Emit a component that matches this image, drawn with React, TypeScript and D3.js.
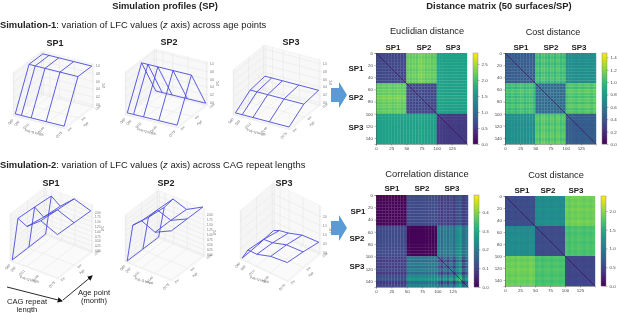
import React from 'react'
import * as d3 from 'd3'

// surface axes
const cagLengths = [80, 92, 111, 140, 175]
const cagLabels = ['Q80', 'Q92', 'Q111', 'Q140', 'Q175']
const ages = [2, 6, 10]
const ageLabels = ['2m', '6m', '10m']

// LFC per age (rows) and CAG length (columns)
const sim1Sp1 = [[0, 0, 0, 0, 0], [1, 1, 1, 1, 1], [1, 1, 1, 1, 1]]
const sim1Sp2 = [[0, 0, 0, 0, 0], [1, 1, 1, 1, 1], [0, 0, 0, 0, 0]]
const sim1Sp3 = [[0, 0, 0, 0, 0], [0.28, 0.28, 0.28, 0.28, 0.28], [0.33, 0.33, 0.33, 0.33, 0.33]]
const sim2Sp1 = [[0, 2.28, 2.03, 2.6, 2.2], [0, 2.2, 1.85, 2.5, 2.15], [0, 2.1, 1.75, 2.4, 2.1]]
const sim2Sp2 = [[0, 1.9, 2.3, 2.0, 2.4], [0, 1.7, 2.25, 2.0, 2.4], [0, 1.6, 2.2, 1.95, 2.4]]
const sim2Sp3 = [[0, 0.6, 0.6, 0.85, 0.95], [0, 0.45, 0.5, 0.75, 0.8], [0.05, 0.2, 0.3, 0.55, 0.6]]

const ticksSim1 = [0, 0.2, 0.4, 0.6, 0.8, 1]
const ticksQuarter = [0, 0.25, 0.5, 0.75, 1, 1.25, 1.5, 1.75, 2]
const ticksHalf = [0, 0.5, 1, 1.5, 2]

// distance matrices: block means, block texture strength, row/column offsets (every 5 surfaces)
const euclidMeans = [[0.6, 2.15, 1.62], [2.15, 0.6, 1.62], [1.62, 1.62, 0.5]]
const euclidTexture = [[0.2, 0.55, 0.25], [0.55, 0.2, 0.25], [0.25, 0.25, 0.2]]
const euclidOffsets = [0.04, -0.04, 0.06, -0.02, 0.1, -0.05, 0.02, 0.09, -0.06, 0.01, 0.03, -0.05, 0.05, -0.03, 0.2, 0.12, -0.04, 0.05, -0.07, 0.02, -0.03, 0.05, -0.02, 0.04, -0.05, 0.02, 0.06, -0.04, 0.03, -0.02]
const costMeans = [[0.42, 1.0, 0.72], [1.0, 0.5, 1.05], [0.72, 1.05, 0.42]]
const costTexture = [[0.3, 0.6, 0.35], [0.6, 0.3, 0.6], [0.35, 0.6, 0.3]]
const costOffsets = [0.03, -0.02, 0.05, -0.04, 0.02, 0.07, -0.03, 0.01, 0.05, -0.04, 0.04, -0.05, 0.08, 0.02, -0.03, 0.06, -0.04, 0.09, -0.02, 0.04, -0.03, 0.04, 0.01, -0.04, 0.05, -0.02, 0.03, 0.06, -0.03, 0.07]
const corrMeans = [[0.005, 0.11, 0.09], [0.11, 0.005, 0.19], [0.09, 0.19, 0.13]]
const corrTexture = [[0, 0.3, 0.35], [0.3, 0, 0.6], [0.35, 0.6, 1]]
const corrOffsets = [0.005, -0.004, 0.006, 0.003, -0.005, 0.004, -0.003, 0.006, -0.002, 0.004, -0.003, 0.005, 0.002, -0.004, 0.006, 0.003, -0.005, 0.002, 0.004, -0.003, 0.02, -0.03, 0.03, -0.02, 0.05, -0.03, 0.07, 0.12, -0.03, 0.04]
const cost2Means = [[0.55, 1.15, 1.85], [1.15, 0.55, 1.7], [1.85, 1.7, 0.5]]
const cost2Texture = [[0.25, 0.4, 0.45], [0.4, 0.25, 0.45], [0.45, 0.45, 0.25]]
const cost2Offsets = [0.06, -0.03, 0.04, -0.05, 0.08, -0.02, 0.03, -0.04, 0.1, 0.02, -0.03, 0.05, -0.05, 0.02, 0.06, -0.04, 0.03, 0.05, -0.02, 0.01, 0.04, -0.05, 0.07, -0.02, 0.09, 0.02, -0.04, 0.06, -0.03, 0.05]

const matrixTicksX = [0, 25, 50, 75, 100, 125]
const matrixTicksY = [0, 20, 40, 60, 80, 100, 120, 140]

const FONT = 'Liberation Sans, Arial, sans-serif'

type Vec = [number, number]

const surfaces = [
  { z: sim1Sp1, ticks: ticksSim1, fmt: '.1f', zDomain: [-0.05, 1.05], o: [13, 116], ex: [52, 13], ey: [29, -22], ez: [0, -43] },
  { z: sim1Sp2, ticks: ticksSim1, fmt: '.1f', zDomain: [-0.05, 1.05], o: [125, 115], ex: [53, 13], ey: [30, -23], ez: [0, -43] },
  { z: sim1Sp3, ticks: ticksSim1, fmt: '.1f', zDomain: [-0.05, 1.1], o: [233, 115], ex: [57, 15], ey: [31, -25], ez: [0, -45] },
  { z: sim2Sp1, ticks: ticksQuarter, fmt: '.2f', zDomain: [-0.05, 2.4], o: [10, 261], ex: [48, 18], ey: [35, -27], ez: [0, -47] },
  { z: sim2Sp2, ticks: ticksQuarter, fmt: '.2f', zDomain: [-0.05, 2.3], o: [125, 262], ex: [47, 19], ey: [33, -25], ez: [0, -47] },
  { z: sim2Sp3, ticks: ticksHalf, fmt: '.1f', zDomain: [-0.05, 2.6], o: [240, 259], ex: [48, 23], ey: [33, -28], ez: [0, -48] },
]

const matrices = [
  { means: euclidMeans, texture: euclidTexture, offsets: euclidOffsets, max: 2.84, cbTicks: [0, 0.5, 1, 1.5, 2, 2.5], fmt: '.1f', x: 376, y: 53, w: 91, h: 91, diagFrom: 0 },
  { means: costMeans, texture: costTexture, offsets: costOffsets, max: 1.47, cbTicks: [0, 0.2, 0.4, 0.6, 0.8, 1, 1.2, 1.4], fmt: '.1f', x: 505, y: 53, w: 91, h: 91, diagFrom: 0 },
  { means: corrMeans, texture: corrTexture, offsets: corrOffsets, max: 0.49, cbTicks: [0, 0.1, 0.2, 0.3, 0.4], fmt: '.1f', x: 376, y: 195, w: 92, h: 92, diagFrom: 100 },
  { means: cost2Means, texture: cost2Texture, offsets: cost2Offsets, max: 2.4, cbTicks: [0, 0.5, 1, 1.5, 2], fmt: '.1f', x: 505, y: 196, w: 90, h: 90, diagFrom: 0 },
]

const labels: [string, number, number, number, string][] = [
  ['Simulation profiles (SP)', 165, 8.5, 9.4, 'bold'],
  ['Distance matrix (50 surfaces/SP)', 499, 8.5, 9.4, 'bold'],
  ['SP1', 55, 46, 9, 'bold'], ['SP2', 169, 45, 9, 'bold'], ['SP3', 291, 45, 9, 'bold'],
  ['SP1', 51, 186, 9, 'bold'], ['SP2', 166, 186, 9, 'bold'], ['SP3', 284, 186, 9, 'bold'],
  ['Euclidian distance', 427, 34, 9.2, 'normal'], ['Cost distance', 553, 35, 9, 'normal'],
  ['Correlation distance', 427, 177, 9.4, 'normal'], ['Cost distance', 556, 178, 9.2, 'normal'],
  ['SP1', 393, 50, 8, 'bold'], ['SP2', 424, 50, 8, 'bold'], ['SP3', 453, 50, 8, 'bold'],
  ['SP1', 356, 71, 8, 'bold'], ['SP2', 356, 100, 8, 'bold'], ['SP3', 356, 130, 8, 'bold'],
  ['SP1', 521, 50, 8, 'bold'], ['SP2', 551, 50, 8, 'bold'], ['SP3', 579, 50, 8, 'bold'],
  ['SP1', 392, 191, 8, 'bold'], ['SP2', 422, 191, 8, 'bold'], ['SP3', 452, 191, 8, 'bold'],
  ['SP1', 358, 214, 8, 'bold'], ['SP2', 357, 241, 8, 'bold'], ['SP3', 357, 269, 8, 'bold'],
  ['SP1', 522, 193, 8, 'bold'], ['SP2', 548, 193, 8, 'bold'], ['SP3', 576, 193, 8, 'bold'],
  ['CAG repeat', 27, 304, 7.6, 'normal'], ['length', 27, 311.5, 7.6, 'normal'],
  ['Age point', 94, 295, 7.6, 'normal'], ['(month)', 94, 303, 7.6, 'normal'],
]

function App() {
  const ref = React.useRef<SVGSVGElement>(null)

  React.useEffect(() => {
    const root = d3.select(ref.current)
    root.selectAll('*').remove()

    const defs = root.append('defs')
    defs.append('marker').attr('id', 'tip').attr('viewBox', '0 0 10 10').attr('refX', 8).attr('refY', 5)
      .attr('markerWidth', 6).attr('markerHeight', 6).attr('orient', 'auto')
      .append('path').attr('d', 'M0,0L10,5L0,10Z').attr('fill', '#111')
    // the source figure is a soft, downsampled raster
    defs.append('filter').attr('id', 'soft').attr('filterUnits', 'userSpaceOnUse')
      .attr('x', 0).attr('y', 0).attr('width', 617).attr('height', 313)
      .attr('color-interpolation-filters', 'sRGB')
      .append('feGaussianBlur').attr('stdDeviation', 0.3)
    const svg = root.append('g').attr('filter', 'url(#soft)')

    // 3D wireframes
    surfaces.forEach(s => {
      const g = svg.append('g')
      const fx = d3.scaleLinear().domain([77, 178]).range([0, 1])
      const fy = d3.scaleLinear().domain([1.8, 10.2]).range([0, 1])
      const fz = d3.scaleLinear().domain(s.zDomain).range([0, 1])
      const at = (a: number, b: number, c: number): Vec => [
        s.o[0] + a * s.ex[0] + b * s.ey[0] + c * s.ez[0],
        s.o[1] + a * s.ex[1] + b * s.ey[1] + c * s.ez[1],
      ]
      const line = d3.line()
      const pane = (pts: Vec[], fill: string) =>
        g.append('path').attr('d', line(pts) + 'Z').attr('fill', fill).attr('stroke', '#e8e8e8').attr('stroke-width', 0.4)
      pane([at(0, 0, 0), at(0, 1, 0), at(0, 1, 1), at(0, 0, 1)], '#f5f5f5')
      pane([at(0, 1, 0), at(1, 1, 0), at(1, 1, 1), at(0, 1, 1)], '#f8f8f8')
      pane([at(0, 0, 0), at(1, 0, 0), at(1, 1, 0), at(0, 1, 0)], '#fafafa')

      const grid = (a: Vec, b: Vec) =>
        g.append('line').attr('x1', a[0]).attr('y1', a[1]).attr('x2', b[0]).attr('y2', b[1])
          .attr('stroke', '#e4e4e4').attr('stroke-width', 0.5)
      cagLengths.forEach(c => {
        grid(at(fx(c), 0, 0), at(fx(c), 1, 0))
        grid(at(fx(c), 1, 0), at(fx(c), 1, 1))
      })
      ages.forEach(a => {
        grid(at(0, fy(a), 0), at(1, fy(a), 0))
        grid(at(0, fy(a), 0), at(0, fy(a), 1))
      })
      s.ticks.forEach(t => {
        grid(at(0, 0, fz(t)), at(0, 1, fz(t)))
        grid(at(0, 1, fz(t)), at(1, 1, fz(t)))
      })

      const tiny = (x: number, y: number, text: string, rot = 0, anchor = 'middle', size = 3.2) =>
        g.append('text').attr('transform', `translate(${x},${y}) rotate(${rot})`).attr('text-anchor', anchor)
          .attr('font-family', FONT).attr('font-size', size).attr('fill', '#666').text(text)
      cagLengths.forEach((c, i) => {
        const p = at(fx(c), 0, 0)
        tiny(p[0] - 1, p[1] + 4, cagLabels[i], -45, 'end')
      })
      const lx = at(0.42, 0, 0)
      tiny(lx[0] - 1, lx[1] + 12, 'Poly-Q length', 15)
      ages.forEach((a, i) => {
        const p = at(1, fy(a), 0)
        tiny(p[0] + 3, p[1] + 3, ageLabels[i], -40, 'start')
      })
      const la = at(1, 0.5, 0)
      tiny(la[0] + 7, la[1] + 7, 'Age', -40)
      s.ticks.forEach(t => {
        const p = at(1, 1, fz(t))
        tiny(p[0] + 2, p[1] + 1, d3.format(s.fmt)(t), 0, 'start', 2.8)
      })
      const lz = at(1, 1, 0.5)
      tiny(lz[0] + 11, lz[1], 'LFC', -90, 'middle', 2.8)

      const wire = g.append('g').attr('fill', 'none').attr('stroke', '#4b4bdc').attr('stroke-width', 0.9).attr('stroke-linejoin', 'round')
      const point = (i: number, j: number) => at(fx(cagLengths[j]), fy(ages[i]), fz(s.z[i][j]))
      ages.forEach((_, i) => {
        wire.append('path').attr('d', line(cagLengths.map((_, j) => point(i, j))))
      })
      cagLengths.forEach((_, j) => {
        wire.append('path').attr('d', line(ages.map((_, i) => point(i, j))))
      })
    })

    // distance matrices
    const cellIndex = d3.range(30)
    const blockOf = (i: number) => Math.floor(i / 10)
    matrices.forEach(m => {
      const g = svg.append('g').attr('transform', `translate(${m.x},${m.y})`)
      const band = d3.scaleBand<number>().domain(cellIndex).range([0, m.w])
      const bandY = d3.scaleBand<number>().domain(cellIndex).range([0, m.h])
      const color = d3.scaleSequential(d3.interpolateViridis).domain([0, m.max])
      cellIndex.forEach(i => cellIndex.forEach(j => {
        const a = blockOf(i)
        const b = blockOf(j)
        const v = m.means[a][b] + m.texture[a][b] * (m.offsets[i] + m.offsets[j])
        g.append('rect').attr('x', band(j)!).attr('y', bandY(i)!)
          .attr('width', band.bandwidth() + 0.2).attr('height', bandY.bandwidth() + 0.2)
          .attr('fill', color(Math.max(0, v)))
      }))
      const x = d3.scaleLinear().domain([0, 150]).range([0, m.w])
      const y = d3.scaleLinear().domain([0, 150]).range([0, m.h])
      g.append('line').attr('x1', x(m.diagFrom)).attr('y1', y(m.diagFrom)).attr('x2', x(150)).attr('y2', y(150))
        .attr('stroke', color(0)).attr('stroke-width', 0.6)

      const axisStyle = (a: d3.Selection<SVGGElement, unknown, null, undefined>) => {
        a.select('.domain').attr('stroke', '#444').attr('stroke-width', 0.4)
        a.selectAll('.tick line').attr('stroke', '#444').attr('stroke-width', 0.4)
        a.selectAll('.tick text').attr('font-family', FONT).attr('font-size', 4.4).attr('fill', '#444')
      }
      g.append('g').attr('transform', `translate(0,${m.h})`)
        .call(d3.axisBottom(x).tickValues(matrixTicksX).tickFormat(d3.format('d')).tickSize(1.5).tickPadding(1.5))
        .call(axisStyle as any)
      g.append('g')
        .call(d3.axisLeft(y).tickValues(matrixTicksY).tickFormat(d3.format('d')).tickSize(1.5).tickPadding(1.5))
        .call(axisStyle as any)

      // colour bar
      const cbX = m.w + 6
      const cb = d3.scaleLinear().domain([0, m.max]).range([m.h, 0])
      d3.range(0, m.h).forEach(py => {
        g.append('rect').attr('x', cbX).attr('y', py).attr('width', 5).attr('height', 1.2).attr('fill', color(cb.invert(py + 0.5)))
      })
      g.append('rect').attr('x', cbX).attr('y', 0).attr('width', 5).attr('height', m.h)
        .attr('fill', 'none').attr('stroke', '#777').attr('stroke-width', 0.4)
      g.append('g').attr('transform', `translate(${cbX + 5},0)`)
        .call(d3.axisRight(cb).tickValues(m.cbTicks).tickFormat(d3.format(m.fmt)).tickSize(1.5).tickPadding(2))
        .call(axisStyle as any)
        .call(a => a.select('.domain').remove())
    })

    // block arrows between the two columns
    const arrow = d3.line()
    ;[95, 228].forEach(cy => {
      svg.append('path').attr('fill', '#5b9bd5').attr('d', arrow([
        [331, cy - 7], [339, cy - 7], [339, cy - 13], [347, cy], [339, cy + 13], [339, cy + 7], [331, cy + 7],
      ]) + 'Z')
    })

    // direction arrows
    svg.append('line').attr('x1', 7).attr('y1', 287).attr('x2', 62).attr('y2', 301)
      .attr('stroke', '#111').attr('stroke-width', 0.9).attr('marker-end', 'url(#tip)')
    svg.append('line').attr('x1', 63).attr('y1', 300).attr('x2', 92).attr('y2', 276)
      .attr('stroke', '#111').attr('stroke-width', 0.9).attr('marker-end', 'url(#tip)')

    // text
    labels.forEach(([t, x, y, size, weight]) => {
      svg.append('text').attr('x', x).attr('y', y).attr('text-anchor', 'middle')
        .attr('font-family', FONT).attr('font-size', size).attr('font-weight', weight).attr('fill', '#222').text(t)
    })
    const sentence = (y: number, name: string, before: string, after: string) => {
      const t = svg.append('text').attr('x', 0).attr('y', y).attr('font-family', FONT).attr('font-size', 9.4).attr('fill', '#222')
      t.append('tspan').attr('font-weight', 'bold').text(name)
      t.append('tspan').text(before)
      t.append('tspan').attr('font-style', 'italic').text('z')
      t.append('tspan').text(after)
    }
    sentence(27.5, 'Simulation-1', ': variation of LFC values (', ' axis) across age points')
    sentence(167.5, 'Simulation-2', ': variation of LFC values (', ' axis) across CAG repeat lengths')
  }, [])

  return (
    <svg ref={ref} width={617} height={313} style={{ position: 'absolute', left: 0, top: 0, background: '#fff' }} />
  )
}

export default App
